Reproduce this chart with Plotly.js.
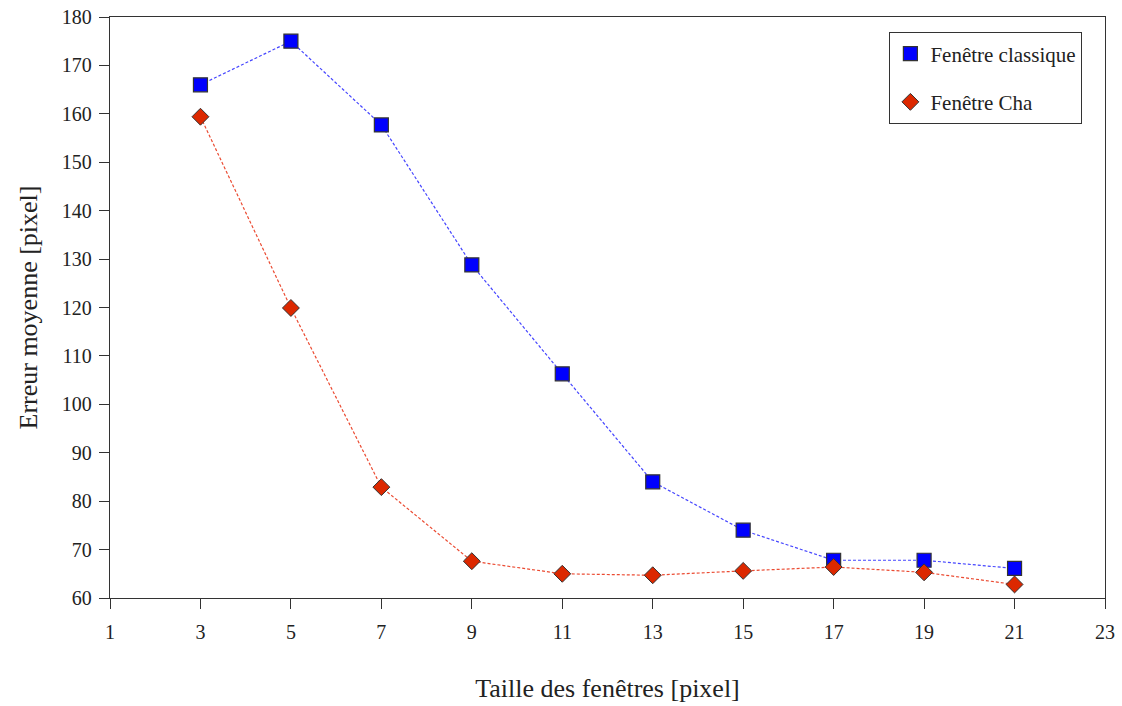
<!DOCTYPE html>
<html>
<head>
<meta charset="utf-8">
<script src="https://cdn.plot.ly/plotly-3.0.1.min.js"></script>
<style>html,body{margin:0;padding:0;background:#fff;}#chart{width:1122px;height:706px;}</style>
</head>
<body>
<div id="chart"></div>
<script>
const windowSizes = [3, 5, 7, 9, 11, 13, 15, 17, 19, 21];
const classicError = [166, 175, 157.7, 128.8, 106.3, 84.0, 74.0, 67.8, 67.8, 66.1];
const chaError = [159.4, 119.9, 82.9, 67.6, 65.0, 64.7, 65.6, 66.4, 65.3, 62.8];
const xTicks = [1, 3, 5, 7, 9, 11, 13, 15, 17, 19, 21, 23];
const yTicks = [60, 70, 80, 90, 100, 110, 120, 130, 140, 150, 160, 170, 180];
const seriesNames = ["Fenêtre classique", "Fenêtre Cha"];

const font = "Liberation Serif, DejaVu Serif, serif";

const traces = [
  {x: windowSizes, y: classicError, mode: "lines", showlegend: false, hoverinfo: "skip",
   line: {color: "rgb(70,70,255)", width: 1.2, dash: "3px,2px"}},
  {x: windowSizes, y: chaError, mode: "lines", showlegend: false, hoverinfo: "skip",
   line: {color: "rgb(235,75,50)", width: 1.2, dash: "3px,2px"}},
  {x: windowSizes, y: classicError, mode: "markers", name: seriesNames[0], legendgroup: "a",
   marker: {symbol: "square", size: 14, color: "rgb(0,0,255)", line: {color: "#333", width: 1.2}}},
  {x: windowSizes, y: chaError, mode: "markers", name: seriesNames[1], legendgroup: "b",
   marker: {symbol: "diamond", size: 13, color: "rgb(220,40,0)", line: {color: "#333", width: 1}}}
];

const layout = {
  width: 1122, height: 706,
  margin: {l: 110, r: 17, t: 17, b: 108},
  paper_bgcolor: "#fff", plot_bgcolor: "#fff",
  font: {family: font, color: "#222", size: 20},
  xaxis: {
    range: [1, 23], tickvals: xTicks, ticktext: xTicks.map(String),
    showgrid: false, zeroline: false, showline: true, mirror: true,
    linecolor: "#333", linewidth: 1.3, ticks: "outside", ticklen: 10, tickcolor: "#333",
    ticklabelstandoff: 6,
    tickfont: {family: font, size: 20, color: "#222"},
    title: {text: "Taille des fenêtres [pixel]", font: {family: font, size: 26, color: "#222"}, standoff: 36}
  },
  yaxis: {
    range: [60, 180], tickvals: yTicks, ticktext: yTicks.map(String),
    showgrid: false, zeroline: false, showline: true, mirror: true,
    linecolor: "#333", linewidth: 1.3, ticks: "outside", ticklen: 10, tickcolor: "#333",
    ticklabelstandoff: 3,
    tickfont: {family: font, size: 20, color: "#222"},
    title: {text: "Erreur moyenne [pixel]", font: {family: font, size: 26, color: "#222"}, standoff: 16}
  },
  legend: {
    x: 0.783, y: 0.974, xanchor: "left", yanchor: "top",
    bgcolor: "#fff", bordercolor: "#333", borderwidth: 1.3,
    font: {family: font, size: 21, color: "#222"},
    traceorder: "grouped", tracegroupgap: 18, itemwidth: 30
  },
  showlegend: true
};

Plotly.newPlot("chart", traces, layout, {displayModeBar: false, staticPlot: true});
</script>
</body>
</html>
